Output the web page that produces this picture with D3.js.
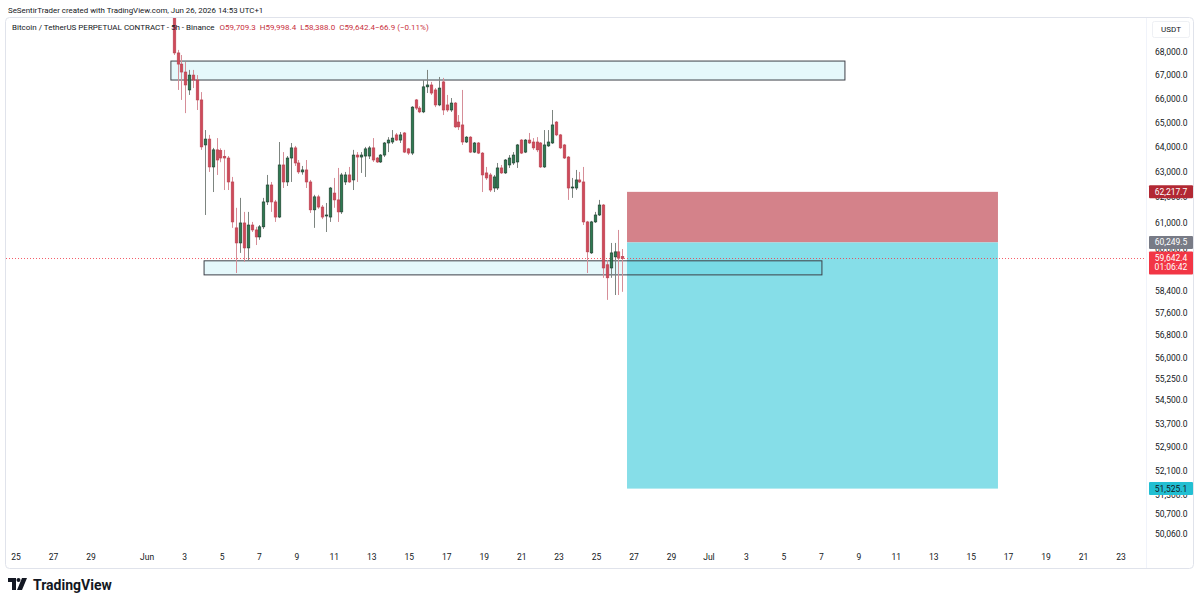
<!DOCTYPE html>
<html>
<head>
<meta charset="utf-8">
<script src="https://cdn.jsdelivr.net/npm/d3@7"></script>
<style>
  body { margin: 0; background: #fff; }
  svg { display: block; font-family: Roboto, "Liberation Sans", sans-serif; }
</style>
</head>
<body>
<div id="chart"></div>
<script>
// BTCUSDT.P 5h candles: [open, high, low, close]
const firstCandle = "2026-06-02T10:00";
const candleHours = 5;
const ohlc = [
  [69530,69620,67870,67960],[67960,68090,66380,67480],[67480,67870,65960,67140],[67140,67570,65410,66590],
  [66380,67230,66170,67010],[67010,67230,66460,66800],[66800,67010,65540,65960],[65960,66290,63900,64020],
  [64100,64710,61310,64340],[64340,64510,63010,63210],[63210,63980,62210,63900],[63900,64380,62890,63490],
  [63870,63960,63400,63570],[63640,63900,62290,63570],[63570,63650,62290,62610],[62610,62810,60810,61040],
  [60810,61590,59090,60230],[60230,61980,59850,61000],[61000,61430,59510,60040],[60040,61430,59580,60920],
  [60920,61040,60650,60730],[60730,60850,60150,60460],[60460,60920,60350,60850],[60850,61980,60770,61820],
  [61820,62890,61700,62490],[62490,62610,61430,61820],[61820,61900,61040,61230],[61230,64220,61190,63290],
  [63290,63810,62370,62610],[62610,63650,62450,63570],[63570,64180,62610,63980],[63980,64060,63250,63370],
  [63370,63490,62930,63010],[63010,63250,62900,63090],[63090,63490,62370,62610],[62610,62690,61390,61510],
  [61510,62100,60810,62020],[62020,62100,61550,61620],[61620,61700,61150,61230],[61270,61780,60650,61310],
  [61230,62410,61040,62370],[62170,62770,61590,61900],[61900,63170,61040,61430],[61430,62970,61350,62890],
  [62610,63010,62490,62890],[62890,63210,62570,62610],[62690,63900,62290,63690],[63690,63810,62610,63610],
  [63610,63810,62970,63690],[63650,64020,62810,63940],[63650,64060,63530,63980],[63980,64380,63410,63490],
  [63570,63610,63370,63410],[63410,63730,63370,63690],[63690,64220,63610,64180],[64180,64420,63810,64300],
  [64220,64710,64140,64380],[64510,64590,64260,64300],[64300,64630,64180,64510],[64590,64630,63770,63810],
  [63940,63980,63690,63770],[63770,65700,63690,65660],[65960,66000,65540,65620],[65620,65700,65410,65460],
  [65460,66800,65410,66510],[66510,67230,66250,66590],[66590,66720,66170,66250],[66380,66460,65660,65750],
  [65750,66930,65700,66460],[66720,66890,65330,65540],[65750,66170,65460,65540],[65540,66040,65460,65830],
  [65830,65870,64800,64840],[65040,65330,64710,64840],[64920,66380,64100,64220],[64220,64460,64180,64420],
  [64420,64460,63770,63810],[63810,64220,63770,64180],[64180,64220,63730,63770],[63770,63810,62210,62890],
  [62970,63210,62690,62770],[62890,62970,62210,62290],[62370,62890,62210,62810],[62370,63370,62290,63170],
  [63170,63290,62930,62970],[62970,63530,62930,63490],[63290,63690,63170,63570],[63370,63810,63290,63690],
  [63410,64140,63170,64100],[64300,64340,63730,63770],[63810,64340,63770,64300],[64300,64590,64140,64180],
  [64220,64380,63900,63980],[64220,64420,63810,63900],[64180,64220,63170,63210],[63210,64710,63170,64100],
  [64060,64710,64020,64220],[64180,65540,64140,64920],[65040,65080,64460,64510],[64510,64550,63940,63980],
  [64100,64140,63530,63570],[63610,63650,61900,62370],[62370,62770,61980,62410],[62370,63090,62290,62690],
  [62690,63010,62570,62610],[62610,63210,60920,61040],[61040,61080,59090,59890],[59850,61080,59810,61040],
  [61040,61430,61000,61310],[61310,61900,61270,61700],[61700,61740,58910,59280],[59400,59580,58090,58910],
  [59280,60230,58910,59850],[59700,60230,58270,59890],[59890,60730,58270,59650],[59709.3,59998.4,58388.0,59642.4]
];

// price axis
const priceTicks = [68000,67000,66000,65000,64000,63000,62000,61000,60000,58400,57600,56800,
                    56000,55250,54500,53700,52900,52100,51300,50700,50060];
const priceRange = [50060, 68000];

// time axis
const timeRange = ["2026-05-25", "2026-07-23"];
const timeTicks = ["2026-05-25","2026-05-27","2026-05-29","2026-06-01","2026-06-03","2026-06-05","2026-06-07",
  "2026-06-09","2026-06-11","2026-06-13","2026-06-15","2026-06-17","2026-06-19","2026-06-21","2026-06-23",
  "2026-06-25","2026-06-27","2026-06-29","2026-07-01","2026-07-03","2026-07-05","2026-07-07","2026-07-09",
  "2026-07-11","2026-07-13","2026-07-15","2026-07-17","2026-07-19","2026-07-21","2026-07-23"];

// drawn zones: [from, to, top price, bottom price]
const zones = [
  ["2026-06-02T06:30", "2026-07-08T06:15", 67610, 66800],
  ["2026-06-04T01:00", "2026-07-07T00:45", 59550, 59020]
];

// short position tool
const positionSpan = ["2026-06-26T15:00", "2026-07-16T10:20"];
const entryPrice = 60249.5;
const stopPrice = 62217.7;
const targetPrice = 51525.1;
const lastPrice = 59642.4;
const countdown = "01:06:42";

const headerText = "SeSentirTrader created with TradingView.com, Jun 26, 2026 14:53 UTC+1";
const symbolText = "Bitcoin / TetherUS PERPETUAL CONTRACT - 5h - Binance";
const legendItems = [["O", "59,709.3"], ["H", "59,998.4"], ["L", "58,388.0"], ["C", "59,642.4"], ["", "\u221266.9 (\u22120.11%)"]];

const width = 1200, height = 605;
const parseT = s => new Date(s + (s.length === 10 ? "T00:00" : "") + "Z");

const svg = d3.select("#chart").append("svg")
    .attr("width", width)
    .attr("height", height);

const x = d3.scaleUtc()
    .domain(timeRange.map(parseT))
    .range([16, 1121]);

const y = d3.scaleLog()
    .domain(priceRange)
    .range([534, 52]);

const t0 = parseT(firstCandle);
const candles = ohlc.map((d, i) => ({
    t: new Date(t0.getTime() + i * candleHours * 3600e3),
    o: d[0], h: d[1], l: d[2], c: d[3]
}));

// frame
svg.append("rect")
    .attr("x", 5.5).attr("y", 17.5)
    .attr("width", 1188).attr("height", 551)
    .attr("rx", 4)
    .attr("fill", "#fff")
    .attr("stroke", "#e0e3eb");

svg.append("line")
    .attr("x1", 1146.5).attr("x2", 1146.5)
    .attr("y1", 18).attr("y2", 568)
    .attr("stroke", "#f0f3fa");

const plot = svg.append("g");
svg.append("clipPath").attr("id", "plotclip")
    .append("rect").attr("x", 6).attr("y", 18).attr("width", 1140).attr("height", 527);
plot.attr("clip-path", "url(#plotclip)");

// position tool
const px0 = x(parseT(positionSpan[0])), px1 = x(parseT(positionSpan[1]));
plot.append("rect")
    .attr("x", px0).attr("width", px1 - px0)
    .attr("y", y(stopPrice)).attr("height", y(entryPrice) - y(stopPrice))
    .attr("fill", "#d4828a");
plot.append("rect")
    .attr("x", px0).attr("width", px1 - px0)
    .attr("y", y(entryPrice)).attr("height", y(targetPrice) - y(entryPrice))
    .attr("fill", "#86dee8");

// zones
plot.selectAll(".zone")
    .data(zones)
    .enter()
    .append("rect")
    .attr("class", "zone")
    .attr("x", d => x(parseT(d[0])))
    .attr("width", d => x(parseT(d[1])) - x(parseT(d[0])))
    .attr("y", d => y(d[2]))
    .attr("height", d => y(d[3]) - y(d[2]))
    .attr("fill", "rgba(0,188,212,0.1)")
    .attr("stroke", "#3d4048")
    .attr("stroke-width", 1);

// last price line
plot.append("line")
    .attr("x1", 6).attr("x2", 1146)
    .attr("y1", Math.round(y(lastPrice)) + 0.5).attr("y2", Math.round(y(lastPrice)) + 0.5)
    .attr("stroke", "#f23645")
    .attr("stroke-dasharray", "1,2")
    .attr("opacity", 0.8);

// candles
const bw = 2.6;
const cg = plot.selectAll(".candle")
    .data(candles)
    .enter()
    .append("g")
    .attr("class", "candle");

cg.append("line")
    .attr("x1", d => Math.round(x(d.t)) + 0.5)
    .attr("x2", d => Math.round(x(d.t)) + 0.5)
    .attr("y1", d => y(d.h))
    .attr("y2", d => y(d.l))
    .attr("stroke", d => d.c >= d.o ? "#7d8580" : "#d68e98")
    .attr("stroke-width", 1);

cg.append("rect")
    .attr("x", d => Math.round(x(d.t)) + 0.5 - bw / 2)
    .attr("width", bw)
    .attr("y", d => y(Math.max(d.o, d.c)))
    .attr("height", d => Math.max(1, Math.abs(y(d.o) - y(d.c))))
    .attr("fill", d => d.c >= d.o ? "#2e7a52" : "#cf4a5a")
    .attr("stroke", d => d.c >= d.o ? "#1c3a2b" : "#b8404e")
    .attr("stroke-width", 0.6);

// price axis labels
const yAxis = svg.append("g").attr("class", "y-axis");
yAxis.selectAll("text")
    .data(priceTicks)
    .enter()
    .append("text")
    .attr("x", 1155)
    .attr("y", d => y(d))
    .attr("dy", "0.35em")
    .attr("fill", "#131722")
    .style("font-size", "8.5px")
    .text(d => d3.format(",.1f")(d));

svg.append("rect")
    .attr("x", 1152.5).attr("y", 21.5).attr("width", 37).attr("height", 16)
    .attr("rx", 2).attr("fill", "#fff").attr("stroke", "#eef0f4");
svg.append("text")
    .attr("x", 1171).attr("y", 29.5).attr("dy", "0.35em")
    .attr("text-anchor", "middle")
    .attr("fill", "#131722")
    .style("font-size", "8px")
    .text("USDT");

// price markers on the axis
function marker(price, bg, fg) {
    const yy = y(price);
    svg.append("rect")
        .attr("x", 1149).attr("y", yy - 6.5).attr("width", 44).attr("height", 13)
        .attr("rx", 1).attr("fill", bg);
    svg.append("text")
        .attr("x", 1171).attr("y", yy).attr("dy", "0.35em")
        .attr("text-anchor", "middle")
        .attr("fill", fg)
        .style("font-size", "8.5px")
        .text(d3.format(",.1f")(price));
}
marker(stopPrice, "#b22833", "#fff");
marker(entryPrice, "#787b86", "#fff");
marker(targetPrice, "#22bfd2", "#131722");

// last price + countdown
const ly = y(lastPrice);
svg.append("rect")
    .attr("x", 1149).attr("y", ly - 7).attr("width", 44).attr("height", 23)
    .attr("rx", 1).attr("fill", "#f23645");
svg.append("text")
    .attr("x", 1171).attr("y", ly - 0.5).attr("dy", "0.35em")
    .attr("text-anchor", "middle").attr("fill", "#fff")
    .style("font-size", "8.5px")
    .text(d3.format(",.1f")(lastPrice));
svg.append("text")
    .attr("x", 1171).attr("y", ly + 9).attr("dy", "0.35em")
    .attr("text-anchor", "middle").attr("fill", "#fff")
    .style("font-size", "8.5px")
    .text(countdown);

// time axis
const xAxis = svg.append("g").attr("class", "x-axis");
xAxis.selectAll("text")
    .data(timeTicks.map(parseT))
    .enter()
    .append("text")
    .attr("x", d => x(d))
    .attr("y", 557)
    .attr("dy", "0.35em")
    .attr("text-anchor", "middle")
    .attr("fill", "#131722")
    .style("font-size", "8.5px")
    .text(d => d.getUTCDate() === 1 ? d3.utcFormat("%b")(d) : d3.utcFormat("%-d")(d));

// header
svg.append("text")
    .attr("x", 8).attr("y", 10).attr("dy", "0.35em")
    .attr("fill", "#131722")
    .style("font-size", "7.9px")
    .text(headerText);

const legend = svg.append("text")
    .attr("x", 12).attr("y", 27).attr("dy", "0.35em")
    .attr("fill", "#131722")
    .style("font-size", "8px");
legend.append("tspan").text(symbolText);
legendItems.forEach((d, i) => {
    legend.append("tspan").attr("dx", i === 0 ? 5 : 4).attr("fill", "#b8323f").text(d[0]);
    legend.append("tspan").attr("fill", "#c9303d").text(d[1]);
});

// TradingView logo
const logo = svg.append("g").attr("transform", "translate(8,578)").attr("fill", "#131722");
logo.append("path").attr("d", "M0 0 H8 V12 H4 V4 H0 Z");
logo.append("circle").attr("cx", 10.5).attr("cy", 2).attr("r", 2);
logo.append("path").attr("d", "M14 0 H19 L14 12 H9 Z");
svg.append("text")
    .attr("x", 33).attr("y", 585).attr("dy", "0.35em")
    .attr("fill", "#131722")
    .style("font-size", "14px")
    .style("font-weight", "700")
    .text("TradingView");
</script>
</body>
</html>
